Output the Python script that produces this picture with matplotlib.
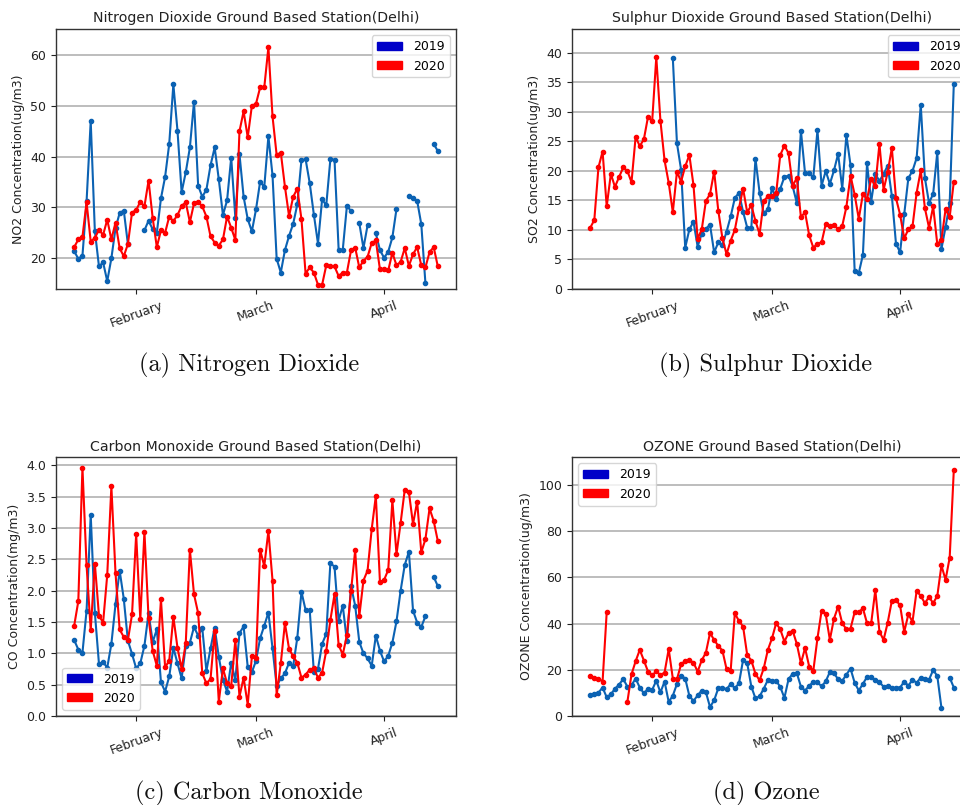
import numpy as np
import pandas as pd
import matplotlib
matplotlib.use("Agg")
import matplotlib.pyplot as plt
import matplotlib.dates as mdates
import matplotlib.patches as mpatches

nan = np.nan
dates = pd.date_range("2020-01-17", "2020-04-14", freq="D")

no2_2020 = [22.2, 23.7, 24.2, 31.0, 23.3, 24.0, 25.6, 24.6, 27.6, 23.7, 27.0, 22.0, 20.4, 22.8, 29.0, 29.5,
            31.1, 30.2, 35.3, 27.9, 22.2, 25.5, 25.0, 28.2, 27.3, 28.5, 30.3, 31.0, 27.1, 30.8, 31.1, 30.2,
            28.2, 24.3, 23.1, 22.5, 23.7, 28.2, 26.0, 23.6, 45.0, 48.9, 43.8, 50.0, 50.4, 53.6, 53.6, 61.5,
            47.9, 40.3, 40.8, 34.1, 28.3, 32.1, 33.7, 27.7, 17.0, 18.2, 17.2, 14.8, 14.8, 18.6, 18.4, 18.4,
            16.5, 17.2, 17.2, 21.6, 22.1, 18.2, 19.5, 20.3, 23.0, 23.5, 17.8, 17.9, 17.6, 21.1, 18.6, 19.3,
            22.0, 18.5, 20.8, 22.2, 18.6, 18.2, 21.2, 22.2, 18.4]
no2_2019 = [21.4, 19.9, 20.5, 31.2, 47.0, 25.4, 18.4, 19.2, 15.5, 20.0, 25.9, 28.9, 29.4, 22.8, nan, nan,
            nan, 25.5, 27.4, 25.7, 25.0, 31.8, 36.0, 42.5, 54.2, 45.1, 33.0, 36.9, 41.8, 50.8, 34.3, 32.1,
            33.5, 38.3, 41.8, 35.5, 28.5, 31.4, 39.8, 28.0, 40.5, 32.1, 27.7, 25.3, 29.6, 35.1, 34.0, 44.0,
            36.3, 19.9, 17.2, 21.6, 24.4, 26.8, 30.6, 39.3, 39.5, 34.8, 28.6, 22.9, 31.6, 30.4, 39.5, 39.4,
            21.7, 21.7, 30.3, 29.3, nan, 26.9, 22.0, 26.5, nan, 24.9, 21.6, 20.1, 21.3, 24.1, 29.7, nan,
            nan, 32.3, 31.9, 31.3, 26.7, 15.1, nan, 42.5, 41.1]

so2_2020 = [10.35, 11.7, 20.6, 23.3, 14.0, 19.5, 17.3, 19.0, 20.6, 20.0, 18.1, 25.8, 24.2, 25.4, 29.2, 28.4,
            39.3, 28.5, 21.8, 18.0, 13.0, 19.9, 18.2, 20.8, 22.7, 17.6, 8.5, 10.1, 14.9, 16.1, 19.9, 13.3,
            8.6, 5.9, 8.2, 10.0, 13.7, 17.0, 13.0, 14.2, 11.5, 9.3, 14.9, 15.7, 15.7, 16.2, 22.7, 24.3,
            23.0, 17.5, 18.8, 12.2, 13.0, 9.1, 7.0, 7.7, 7.9, 11.0, 10.6, 10.9, 10.1, 10.7, 13.9, 19.2,
            16.0, 11.9, 16.1, 15.2, 18.7, 17.4, 24.6, 16.8, 19.8, 23.9, 15.4, 12.6, 8.6, 10.1, 10.6, 16.3,
            20.1, 13.7, 10.4, 14.0, 7.6, 8.3, 13.5, 12.2, 18.2]
so2_2019 = [nan] * 20 + [39.1, 24.7, 20.2, 7.0, 10.1, 11.4, 7.2, 9.4, 10.2, 10.9, 6.2, 7.9, 7.5, 9.7, 12.3,
            15.4, 16.3, 13.1, 10.4, 10.4, 22.1, 16.3, 12.8, 13.5, 17.1, 15.2, 17.0, 19.0, 19.2, 17.4, 14.6,
            26.8, 19.6, 19.6, 18.9, 26.9, 17.5, 20.0, 17.8, 20.1, 22.9, 17.0, 26.1, 21.0, 3.1, 2.7, 5.8,
            21.3, 14.8, 19.5, 18.3, 19.5, 20.9, 15.8, 7.7, 6.2, 12.7, 18.8, 20.0, 22.2, 31.2, 18.8, 14.6,
            16.1, 23.2, 6.8, 10.5, 14.5, 34.8]

co_2020 = [1.44, 1.83, 3.96, 2.40, 1.37, 2.43, 1.60, 1.49, 2.25, 3.66, 2.28, 1.38, 1.26, 1.21, 1.62, 2.90,
           1.54, 2.94, 1.56, 1.04, 0.80, 1.86, 0.78, 0.88, 1.58, 1.09, 0.75, 1.16, 2.65, 1.94, 1.64, 0.68,
           0.52, 0.59, 1.36, 0.23, 0.76, 0.52, 0.48, 1.21, 0.31, 0.61, 0.18, 0.95, 0.92, 2.65, 2.39, 2.95,
           2.16, 0.33, 0.84, 1.48, 1.07, 0.95, 0.85, 0.61, 0.66, 0.74, 0.76, 0.61, 0.69, 1.04, 1.53, 1.94,
           1.13, 0.98, 1.29, 2.00, 2.64, 1.59, 2.16, 2.32, 2.98, 3.51, 2.13, 2.17, 2.33, 3.44, 2.58, 3.08,
           3.61, 3.57, 3.06, 3.42, 2.61, 2.82, 3.31, 3.11, 2.79]
co_2019 = [1.21, 1.06, 1.01, 1.68, 3.21, 1.65, 0.83, 0.86, 0.77, 1.15, 1.78, 2.32, 1.87, 1.20, 0.99, 0.76,
           0.84, 1.12, 1.64, 1.18, 1.38, 0.54, 0.39, 0.63, 1.09, 0.84, 0.60, 1.12, 1.17, 1.42, 1.28, 1.40,
           0.72, 1.08, 1.41, 0.94, 0.58, 0.39, 0.85, 0.57, 1.32, 1.43, 0.78, 0.70, 0.88, 1.24, 1.44, 1.65,
           1.08, 0.48, 0.60, 0.68, 0.85, 0.80, 1.25, 1.98, 1.69, 1.69, 0.70, 0.75, 1.15, 1.31, 2.44, 2.38,
           1.52, 1.76, 1.19, 2.07, 1.76, 1.18, 1.00, 0.92, 0.80, 1.28, 1.04, 0.87, 0.96, 1.17, 1.51, 2.00,
           2.41, 2.62, 1.68, 1.49, 1.42, 1.59, nan, 2.22, 2.07]

o3_2020 = [17.5, 16.6, 16.2, 14.9, 44.9, nan, nan, nan, nan, 6.1, 18.0, 23.7, 28.6, 24.0, 19.2, 17.6,
           19.3, 17.7, 18.8, 28.9, 16.2, 15.9, 22.4, 23.8, 24.1, 23.1, 19.2, 24.1, 27.4, 35.9, 32.9, 30.3,
           28.3, 20.3, 19.6, 44.4, 41.1, 38.7, 26.4, 24.0, 18.2, 15.4, 20.6, 28.6, 33.6, 40.1, 37.5, 32.2,
           35.8, 36.9, 31.2, 22.8, 29.4, 21.4, 19.6, 33.6, 45.5, 44.0, 33.0, 42.1, 47.3, 40.1, 37.5, 37.8,
           44.9, 44.9, 46.6, 40.1, 40.1, 54.4, 36.5, 32.9, 40.4, 49.8, 50.2, 47.8, 36.4, 44.0, 40.8, 54.1,
           51.9, 48.8, 51.5, 48.8, 51.9, 65.1, 58.9, 68.5, 106.5]
o3_2019 = [9.1, 9.7, 10.1, 12.3, 8.1, 9.4, 11.8, 13.6, 16.0, 12.7, 13.3, 16.2, 12.3, 9.8, 11.8, 11.3,
           15.3, 10.2, 14.9, 6.1, 8.8, 13.9, 17.5, 16.2, 8.7, 6.5, 8.9, 11.0, 10.3, 3.9, 6.8, 12.0,
           12.3, 11.5, 13.9, 12.0, 14.1, 24.2, 22.8, 12.7, 7.6, 8.5, 11.8, 15.6, 15.2, 15.2, 12.6, 7.8,
           15.9, 18.3, 18.6, 12.7, 11.0, 13.1, 14.7, 14.6, 12.8, 15.0, 19.0, 18.5, 15.9, 15.2, 17.9, 20.5,
           14.4, 11.0, 13.9, 16.9, 16.9, 15.6, 14.6, 12.7, 13.0, 12.0, 12.3, 12.3, 14.9, 13.1, 15.7, 14.4,
           16.6, 16.2, 15.7, 19.9, 17.3, 3.6, nan, 16.6, 12.3]

titles = ["Nitrogen Dioxide Ground Based Station(Delhi)", "Sulphur Dioxide Ground Based Station(Delhi)",
          "Carbon Monoxide Ground Based Station(Delhi)", "OZONE Ground Based Station(Delhi)"]
ylabels = ["NO2 Concentration(ug/m3)", "SO2 Concentration(ug/m3)",
           "CO Concentration(mg/m3)", "OZONE Concentration(ug/m3)"]
captions = ["(a) Nitrogen Dioxide", "(b) Sulphur Dioxide", "(c) Carbon Monoxide", "(d) Ozone"]
years = ["2019", "2020"]

W, H = 960, 805
fig = plt.figure(figsize=(W / 100, H / 100), dpi=100)
fig.patch.set_facecolor("white")

# pixel boxes: left, top, right, bottom
boxes = [(56, 29, 456, 289), (572, 29, 972, 289), (56, 457, 456, 716), (572, 457, 972, 716)]
ylims = [(13.96, 65.1), (0, 44.06), (0, 4.13), (0, 112.0)]
yticks = [np.arange(20, 61, 10), np.arange(0, 41, 5), np.arange(0, 4.01, 0.5), np.arange(0, 101, 20)]
yfmt = ["{:.0f}", "{:.0f}", "{:.1f}", "{:.0f}"]
legend_locs = ["upper right", "upper right", "lower left", "upper left"]
series = [(no2_2019, no2_2020), (so2_2019, so2_2020), (co_2019, co_2020), (o3_2019, o3_2020)]
cap_pos = [(249, 365), (766, 365), (249, 793), (766, 793)]

blue_line = "#0b62b3"
for k in range(4):
    l, t, r, b = boxes[k]
    ax = fig.add_axes([l / W, 1 - b / H, (r - l) / W, (b - t) / H])
    s19, s20 = series[k]
    ax.plot(dates, s19, color=blue_line, marker=".", markersize=6, linewidth=1.5, zorder=3)
    ax.plot(dates, s20, color="red", marker=".", markersize=6, linewidth=1.5, zorder=3)
    ax.set_ylim(*ylims[k])
    ax.set_yticks(yticks[k])
    ax.set_yticklabels([yfmt[k].format(v) for v in yticks[k]])
    ax.xaxis.set_major_locator(mdates.MonthLocator())
    ax.xaxis.set_major_formatter(mdates.DateFormatter("%B"))
    for lab in ax.get_xticklabels():
        lab.set_rotation(20)
        lab.set_ha("center")
    ax.tick_params(labelsize=9, colors="#222222")
    ax.grid(axis="y", color="#b8b8b8", linewidth=1.3)
    ax.set_axisbelow(True)
    for sp in ax.spines.values():
        sp.set_color("#333333")
        sp.set_linewidth(1.0)
    ax.set_title(titles[k], fontsize=10.2, color="#222222", pad=5)
    ax.set_ylabel(ylabels[k], fontsize=9, color="#222222")
    handles = [mpatches.Patch(color="#0000c8", label=years[0]),
               mpatches.Patch(color="red", label=years[1])]
    ax.legend(handles=handles, loc=legend_locs[k], fontsize=9, handlelength=2.0,
              handleheight=0.6, handletextpad=0.9)
    cx, cy = cap_pos[k]
    fig.text(cx / W, 1 - cy / H, captions[k], fontsize=17.5, family="cmr10",
             ha="center", va="center", color="#111111")

fig.savefig("out.png", dpi=100, facecolor="white")
